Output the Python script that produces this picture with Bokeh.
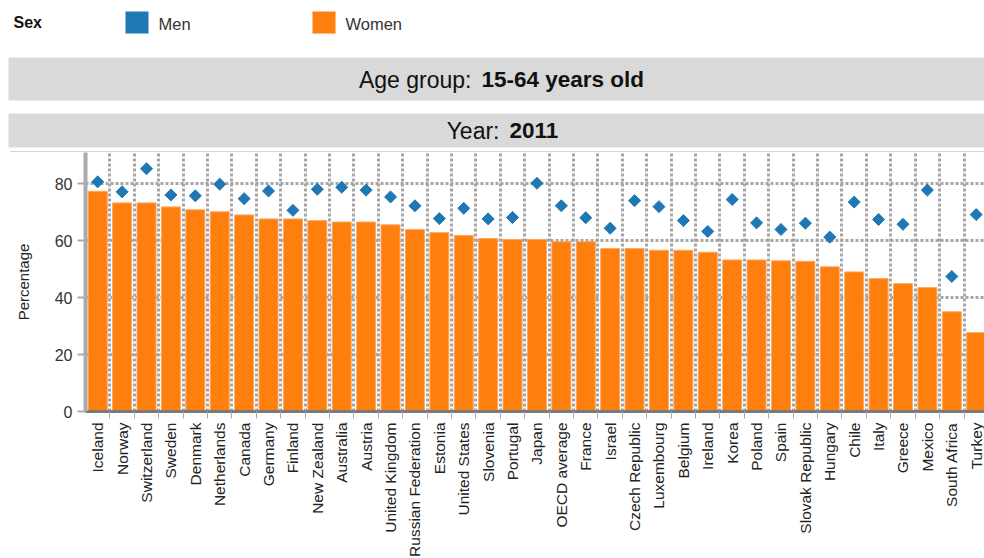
import math
from bokeh.plotting import figure
from bokeh.layouts import column, row
from bokeh.models import Range1d, FixedTicker
from bokeh.core.properties import value
from bokeh.embed import file_html
from bokeh.resources import INLINE

countries = ["Iceland", "Norway", "Switzerland", "Sweden", "Denmark", "Netherlands", "Canada",
             "Germany", "Finland", "New Zealand", "Australia", "Austria", "United Kingdom",
             "Russian Federation", "Estonia", "United States", "Slovenia", "Portugal", "Japan",
             "OECD average", "France", "Israel", "Czech Republic", "Luxembourg", "Belgium",
             "Ireland", "Korea", "Poland", "Spain", "Slovak Republic", "Hungary", "Chile",
             "Italy", "Greece", "Mexico", "South Africa", "Turkey"]
women = [77.3, 73.2, 73.2, 71.8, 70.8, 70.1, 69.0, 67.6, 67.6, 67.0,
         66.5, 66.5, 65.5, 63.9, 62.8, 61.8, 60.7, 60.4, 60.4, 59.6,
         59.6, 57.2, 57.2, 56.6, 56.6, 55.9, 53.2, 53.2, 52.9, 52.7,
         50.8, 49.0, 46.7, 44.9, 43.5, 35.0, 27.7]
men = [80.6, 77.1, 85.2, 76.0, 75.7, 79.8, 74.7, 77.4, 70.6, 78.0,
       78.7, 77.7, 75.3, 72.2, 67.7, 71.3, 67.6, 68.1, 80.1, 72.2,
       68.0, 64.3, 74.0, 71.9, 67.0, 63.2, 74.4, 66.2, 63.9, 66.1,
       61.2, 73.5, 67.4, 65.7, 77.7, 47.4, 69.1]
y_ticks = [0, 20, 40, 60, 80]
legend_title = "Sex"
series_names = ["Men", "Women"]
men_color = "#1f77b4"
women_color = "#ff7f0e"

FONT = value("Liberation Sans")

# ---------- header (legend + two facet bands) ----------
h = figure(width=984, height=152, x_range=Range1d(0, 984), y_range=Range1d(152, 0),
           min_border=0, toolbar_location=None, output_backend="svg")
h.axis.visible = False
h.grid.visible = False
h.outline_line_color = None

h.text(x=[13], y=[22], text=[legend_title], text_font=FONT, text_font_size="16px",
       text_font_style="bold", text_color="#111111", text_baseline="middle", text_align="left")
h.quad(left=[125, 312], right=[148, 335], top=[11, 11], bottom=[33, 33],
       fill_color=[men_color, women_color], line_color=None)
h.text(x=[158, 345], y=[23, 23], text=series_names, text_font=FONT, text_font_size="16.5px",
       text_color="#333333", text_baseline="middle", text_align="left")

h.quad(left=[8, 8], right=[984, 984], top=[57, 113], bottom=[100, 147],
       fill_color="#d9d9d9", line_color=None)
h.text(x=[471], y=[79], text=["Age group:"], text_font=FONT, text_font_size="23px",
       text_color="#111111", text_baseline="middle", text_align="right")
h.text(x=[481], y=[79], text=["15-64 years old"], text_font=FONT, text_font_size="22.5px",
       text_font_style="bold", text_color="#111111", text_baseline="middle", text_align="left")
h.text(x=[499], y=[130], text=["Year:"], text_font=FONT, text_font_size="23px",
       text_color="#111111", text_baseline="middle", text_align="right")
h.text(x=[509], y=[130], text=["2011"], text_font=FONT, text_font_size="22.5px",
       text_font_style="bold", text_color="#111111", text_baseline="middle", text_align="left")
h.segment(x0=[10], y0=[151.5], x1=[984], y1=[151.5], line_color="#d3d3d3", line_width=2)

# ---------- main chart ----------
n = len(countries)
centers = [i + 0.5 for i in range(n)]
bounds = [float(i) for i in range(1, n)]

p = figure(frame_width=899, frame_height=259, x_range=Range1d(0, 36.84), y_range=Range1d(0, 90.9),
           min_border_left=85, min_border_right=0, min_border_top=0, min_border_bottom=0,
           toolbar_location=None, output_backend="svg")
p.outline_line_color = None

p.vbar(x=centers, top=women, width=0.78, bottom=0, fill_color=women_color,
       line_color="#ffa860", line_width=1)
p.scatter(x=centers, y=men, marker="square", size=8.5, angle=math.pi / 4,
          fill_color=men_color, line_color=men_color)

# grids
p.xgrid.ticker = FixedTicker(ticks=bounds)
p.ygrid.ticker = FixedTicker(ticks=[20, 40, 60, 80])
for g in (p.xgrid[0], p.ygrid[0]):
    g.grid_line_color = "#a6a6a6"
    g.grid_line_width = 3
    g.grid_line_dash = "3 2"

# x axis
xa = p.xaxis[0]
xa.ticker = FixedTicker(ticks=centers, minor_ticks=bounds)
xa.major_label_overrides = {c: name for c, name in zip(centers, countries)}
xa.major_label_orientation = math.pi / 2
xa.major_label_text_font = "Liberation Sans"
xa.major_label_text_font_size = "15.5px"
xa.major_label_text_color = "#222222"
xa.major_label_standoff = 4
xa.major_tick_out = 0
xa.major_tick_in = 0
xa.minor_tick_out = 7
xa.minor_tick_in = 0
xa.minor_tick_line_color = "#aaaaaa"
xa.axis_line_color = "#7a7a7a"
xa.axis_line_width = 3

# y axis
ya = p.yaxis[0]
ya.ticker = FixedTicker(ticks=y_ticks)
ya.axis_label = "Percentage"
ya.axis_label_text_font = "Liberation Sans"
ya.axis_label_text_font_size = "15px"
ya.axis_label_text_font_style = "normal"
ya.axis_label_text_color = "#222222"
ya.axis_label_standoff = 20
ya.major_label_text_font = "Liberation Sans"
ya.major_label_text_font_size = "16px"
ya.major_label_text_color = "#333333"
ya.major_label_standoff = 5
ya.major_tick_out = 8
ya.major_tick_in = 0
ya.major_tick_line_color = "#aaaaaa"
ya.major_tick_line_width = 2
ya.minor_tick_line_color = None
ya.axis_line_color = "#aaaaaa"
ya.axis_line_width = 4

layout = column(row(h), p, spacing=0)

with open("out.html", "w") as f:
    f.write(file_html(layout, INLINE))
